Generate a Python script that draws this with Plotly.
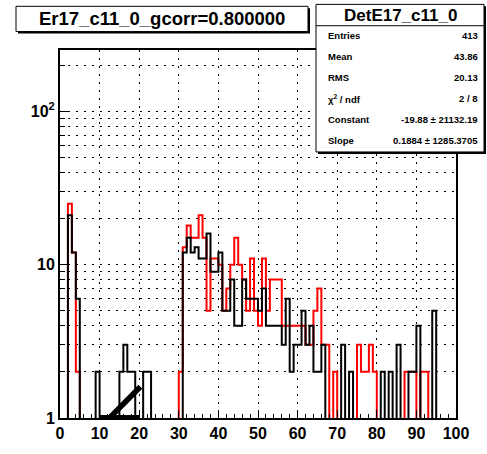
import plotly.graph_objects as go

# ---------------- data ----------------
bin_low_edges = list(range(0, 100))          # 100 bins of width 1, 0..100
bin_width = 1

black_counts = [
    0, 0, 21, 12, 6, 0, 0, 0, 0, 2,          # 0-9
    0, 0, 0, 0, 0, 2, 3, 2, 2, 0,            # 10-19
    0, 2, 2, 0, 0, 0, 0, 0, 0, 0,            # 20-29
    0, 12, 15, 12, 13, 11, 11, 16, 9, 9,     # 30-39
    12, 5, 5, 8, 4, 4, 8, 6, 6, 6,           # 40-49
    5, 7, 4, 4, 4, 4, 3, 6, 2, 3,            # 50-59
    3, 5, 3, 4, 2, 2, 3, 0, 0, 0,            # 60-69
    0, 3, 0, 2, 0, 0, 0, 0, 0, 0,            # 70-79
    0, 2, 0, 2, 0, 3, 0, 0, 2, 2,            # 80-89
    4, 0, 0, 0, 5, 0, 0, 0, 0, 0,            # 90-99
]

red_counts = [
    0, 0, 25, 12, 2, 0, 0, 0, 0, 0,          # 0-9
    0, 0, 0, 0, 0, 0, 0, 0, 0, 0,            # 10-19
    0, 0, 0, 0, 0, 0, 0, 0, 0, 0,            # 20-29
    2, 13, 18, 15, 15, 21, 15, 5, 11, 11,    # 30-39
    10, 5, 7, 10, 15, 10, 8, 5, 11, 5,       # 40-49
    4, 11, 5, 8, 8, 8, 4, 4, 4, 4,           # 50-59
    4, 4, 3, 3, 5, 7, 3, 3, 0, 2,            # 60-69
    0, 0, 0, 0, 0, 3, 2, 2, 3, 2,            # 70-79
    0, 0, 0, 0, 0, 0, 0, 2, 2, 2,            # 80-89
    0, 2, 2, 0, 0, 0, 0, 0, 0, 0,            # 90-99
]

# drawn fit curve (the part below the frame minimum runs along the bottom)
fit_x = [12.5, 20.3]
fit_y = [1.0, 1.6]
fit_base_x = [10.0, 20.0]
fit_base_y = [1.0, 1.0]

x_tick_values = [0, 10, 20, 30, 40, 50, 60, 70, 80, 90, 100]
x_tick_labels = ["0", "10", "20", "30", "40", "50", "60", "70", "80", "90", "100"]
y_tick_values = [1, 10, 100]
y_tick_labels = ["1", "10", "10<sup>2</sup>"]
y_minor_values = [2, 3, 4, 5, 6, 7, 8, 9, 20, 30, 40, 50, 60, 70, 80, 90, 200]

title_text = "Er17_c11_0_gcorr=0.800000"
stats_title = "DetE17_c11_0"
stats_labels = ["Entries", "Mean", "RMS", "χ<sup>2</sup> / ndf", "Constant", "Slope"]
stats_values = ["413", "43.86", "20.13", "2 / 8", "-19.88 ± 21132.19", "0.1884 ± 1285.3705"]

# ---------------- helpers ----------------
FONT = "Liberation Sans, Arial, Helvetica, sans-serif"
W, H = 487, 454
ML, MR, MT, MB = 60, 31, 50, 25
PW, PH = W - ML - MR, H - MT - MB
FLOOR = 0.3  # empty bins are drawn below the frame (log axis)


def xp(px):
    return (px - ML) / PW


def yp(py):
    return (H - MB - py) / PH


def step_xy(counts):
    xs = bin_low_edges + [bin_low_edges[-1] + bin_width]
    ys = [c if c > 0 else FLOOR for c in counts]
    ys = ys + [ys[-1]]
    return xs, ys


fig = go.Figure()

rx, ry = step_xy(red_counts)
fig.add_trace(go.Scatter(x=rx, y=ry, mode="lines", line=dict(color="#ff0000", width=2, shape="hv"),
                         hoverinfo="skip", showlegend=False))
bx, by = step_xy(black_counts)
fig.add_trace(go.Scatter(x=bx, y=by, mode="lines", line=dict(color="#000000", width=2, shape="hv"),
                         hoverinfo="skip", showlegend=False))
fig.add_trace(go.Scatter(x=fit_base_x, y=fit_base_y, mode="lines", line=dict(color="#000000", width=6),
                         hoverinfo="skip", showlegend=False))
fig.add_trace(go.Scatter(x=fit_x, y=fit_y, mode="lines", line=dict(color="#000000", width=5.5),
                         hoverinfo="skip", showlegend=False))

grid_dash = "2px,6px"
fig.update_layout(
    width=W, height=H,
    margin=dict(l=ML, r=MR, t=MT, b=MB),
    paper_bgcolor="white", plot_bgcolor="white",
    showlegend=False,
    xaxis=dict(
        range=[0, 100], tickmode="array", tickvals=x_tick_values, ticktext=x_tick_labels,
        showgrid=True, gridcolor="black", gridwidth=1, griddash=grid_dash,
        ticks="inside", ticklen=8, tickwidth=1, tickcolor="black",
        showline=True, linecolor="black", linewidth=2, mirror=True, zeroline=False,
        tickfont=dict(family=FONT, size=16, color="black", weight="bold"),
        minor=dict(tickmode="linear", tick0=0, dtick=2, ticks="inside", ticklen=4,
                   tickcolor="black", tickwidth=1, showgrid=False),
    ),
    yaxis=dict(
        type="log", range=[0, 2.401], tickmode="array", tickvals=y_tick_values, ticktext=y_tick_labels,
        showgrid=True, gridcolor="black", gridwidth=1, griddash=grid_dash,
        ticks="inside", ticklen=10, tickwidth=1, tickcolor="black",
        showline=True, linecolor="black", linewidth=2, mirror=True, zeroline=False,
        tickfont=dict(family=FONT, size=16, color="black", weight="bold"),
        minor=dict(tickmode="array", tickvals=y_minor_values, ticks="inside", ticklen=5,
                   tickcolor="black", tickwidth=1, showgrid=True, gridcolor="black",
                   gridwidth=1, griddash=grid_dash),
    ),
)

shapes = []
# title box with shadow
shapes.append(dict(type="rect", xref="paper", yref="paper", x0=xp(18), x1=xp(310), y0=yp(33), y1=yp(7),
                   fillcolor="black", line=dict(width=0)))
shapes.append(dict(type="rect", xref="paper", yref="paper", x0=xp(16), x1=xp(308), y0=yp(31), y1=yp(5),
                   fillcolor="white", line=dict(color="black", width=1)))
# stats box with shadow
shapes.append(dict(type="rect", xref="paper", yref="paper", x0=xp(318), x1=xp(486), y0=yp(157), y1=yp(5),
                   fillcolor="black", line=dict(width=0)))
shapes.append(dict(type="rect", xref="paper", yref="paper", x0=xp(316), x1=xp(484), y0=yp(155), y1=yp(3),
                   fillcolor="white", line=dict(color="black", width=1)))
shapes.append(dict(type="line", xref="paper", yref="paper", x0=xp(316), x1=xp(484), y0=yp(25), y1=yp(25),
                   line=dict(color="black", width=1)))
fig.update_layout(shapes=shapes)

ann = []
ann.append(dict(xref="paper", yref="paper", x=xp(162), y=yp(18), text=title_text, showarrow=False,
                xanchor="center", yanchor="middle",
                font=dict(family=FONT, size=18.5, color="black", weight="bold")))
ann.append(dict(xref="paper", yref="paper", x=xp(400), y=yp(14), text=stats_title, showarrow=False,
                xanchor="center", yanchor="middle",
                font=dict(family=FONT, size=17, color="black", weight="bold")))
row_y = [35, 56.7, 78.3, 100, 121.7, 143.3]
for lab, val, ry_ in zip(stats_labels, stats_values, row_y):
    ann.append(dict(xref="paper", yref="paper", x=xp(326), y=yp(ry_), text=lab, showarrow=False,
                    xanchor="left", yanchor="middle",
                    font=dict(family=FONT, size=9.5, color="black", weight="bold")))
    ann.append(dict(xref="paper", yref="paper", x=xp(480), y=yp(ry_), text=val, showarrow=False,
                    xanchor="right", yanchor="middle",
                    font=dict(family=FONT, size=9.5, color="black", weight="bold")))
fig.update_layout(annotations=ann)

html = fig.to_html(full_html=True, include_plotlyjs=True, config={"displayModeBar": False})
html = html.replace("<head>", "<head><style>html,body{margin:0;padding:0;overflow:hidden;}</style>", 1)
with open("out.html", "w", encoding="utf-8") as f:
    f.write(html)
